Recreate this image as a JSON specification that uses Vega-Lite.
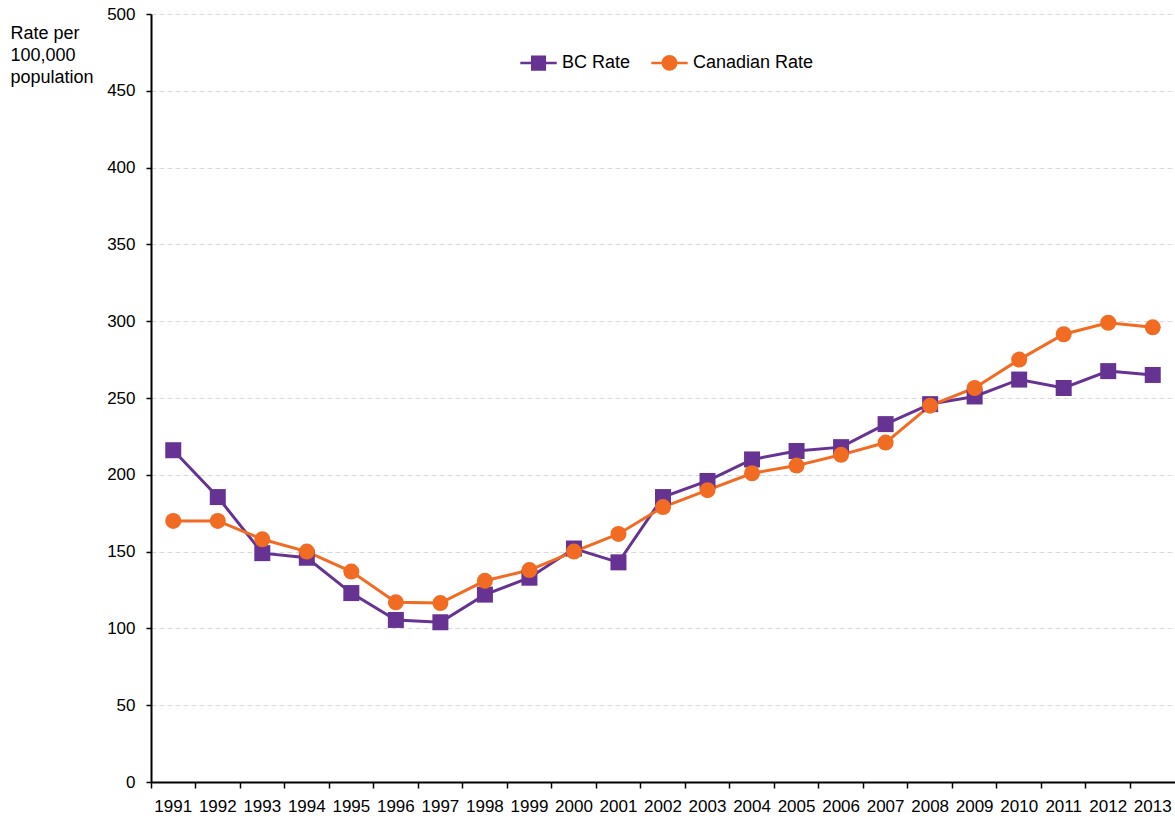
{
  "$schema": "https://vega.github.io/schema/vega-lite/v6.json",
  "width": 1024,
  "height": 768,
  "autosize": {"type": "none"},
  "padding": {"left": 151, "top": 14, "right": 0, "bottom": 41},
  "background": "white",
  "config": {
    "view": {"stroke": null},
    "font": "Liberation Sans",
    "axis": {"labelFont": "Liberation Sans", "titleFont": "Liberation Sans", "labelColor": "#000", "titleColor": "#000"},
    "legend": {"labelFont": "Liberation Sans"}
  },
  "data": {
    "values": [
      {"year": "1991", "series": "BC Rate", "rate": 216}, {"year": "1992", "series": "BC Rate", "rate": 185.5},
      {"year": "1993", "series": "BC Rate", "rate": 149}, {"year": "1994", "series": "BC Rate", "rate": 146},
      {"year": "1995", "series": "BC Rate", "rate": 123}, {"year": "1996", "series": "BC Rate", "rate": 105.5},
      {"year": "1997", "series": "BC Rate", "rate": 104}, {"year": "1998", "series": "BC Rate", "rate": 122},
      {"year": "1999", "series": "BC Rate", "rate": 133}, {"year": "2000", "series": "BC Rate", "rate": 152},
      {"year": "2001", "series": "BC Rate", "rate": 143}, {"year": "2002", "series": "BC Rate", "rate": 185.5},
      {"year": "2003", "series": "BC Rate", "rate": 196}, {"year": "2004", "series": "BC Rate", "rate": 210},
      {"year": "2005", "series": "BC Rate", "rate": 215.5}, {"year": "2006", "series": "BC Rate", "rate": 218},
      {"year": "2007", "series": "BC Rate", "rate": 233}, {"year": "2008", "series": "BC Rate", "rate": 246},
      {"year": "2009", "series": "BC Rate", "rate": 251}, {"year": "2010", "series": "BC Rate", "rate": 262},
      {"year": "2011", "series": "BC Rate", "rate": 256.5}, {"year": "2012", "series": "BC Rate", "rate": 267.5},
      {"year": "2013", "series": "BC Rate", "rate": 265},
      {"year": "1991", "series": "Canadian Rate", "rate": 170}, {"year": "1992", "series": "Canadian Rate", "rate": 170},
      {"year": "1993", "series": "Canadian Rate", "rate": 158}, {"year": "1994", "series": "Canadian Rate", "rate": 150},
      {"year": "1995", "series": "Canadian Rate", "rate": 137}, {"year": "1996", "series": "Canadian Rate", "rate": 117},
      {"year": "1997", "series": "Canadian Rate", "rate": 116.5}, {"year": "1998", "series": "Canadian Rate", "rate": 131},
      {"year": "1999", "series": "Canadian Rate", "rate": 138}, {"year": "2000", "series": "Canadian Rate", "rate": 150},
      {"year": "2001", "series": "Canadian Rate", "rate": 161.5}, {"year": "2002", "series": "Canadian Rate", "rate": 179},
      {"year": "2003", "series": "Canadian Rate", "rate": 190}, {"year": "2004", "series": "Canadian Rate", "rate": 201},
      {"year": "2005", "series": "Canadian Rate", "rate": 206}, {"year": "2006", "series": "Canadian Rate", "rate": 213},
      {"year": "2007", "series": "Canadian Rate", "rate": 221}, {"year": "2008", "series": "Canadian Rate", "rate": 245},
      {"year": "2009", "series": "Canadian Rate", "rate": 256.5}, {"year": "2010", "series": "Canadian Rate", "rate": 275},
      {"year": "2011", "series": "Canadian Rate", "rate": 291.5}, {"year": "2012", "series": "Canadian Rate", "rate": 299},
      {"year": "2013", "series": "Canadian Rate", "rate": 296}
    ]
  },
  "encoding": {
    "x": {
      "field": "year", "type": "ordinal",
      "scale": {"type": "band", "paddingInner": 0, "paddingOuter": 0},
      "axis": {
        "title": null, "labelAngle": 0, "bandPosition": 0,
        "labelFontSize": 17, "labelPadding": 10, "domainColor": "#000", "domainWidth": 2,
        "tickColor": "#000", "tickWidth": 1.5, "tickSize": 6, "grid": false
      }
    },
    "y": {
      "field": "rate", "type": "quantitative",
      "scale": {"domain": [0, 500], "nice": false},
      "axis": {
        "values": [0, 50, 100, 150, 200, 250, 300, 350, 400, 450, 500],
        "title": ["Rate per", "100,000", "population"],
        "titleAngle": 0, "titleAlign": "left", "titleBaseline": "alphabetic",
        "titleX": -141, "titleY": 24, "titleFontSize": 18, "titleFontWeight": "normal", "titleLineHeight": 22,
        "labelFontSize": 17, "labelPadding": 11, "domainColor": "#000", "domainWidth": 2,
        "tickColor": "#000", "tickWidth": 1.5, "tickSize": 5,
        "grid": true, "gridColor": "#d9d9d9", "gridDash": [5, 3], "gridWidth": 1
      }
    },
    "color": {
      "field": "series", "type": "nominal",
      "scale": {"domain": ["BC Rate", "Canadian Rate"], "range": ["#663393", "#f26b22"]},
      "legend": null
    }
  },
  "layer": [
    {"mark": {"type": "line", "strokeWidth": 3}},
    {
      "transform": [{"filter": "datum.series === 'BC Rate'"}],
      "mark": {"type": "point", "shape": "square", "filled": true, "opacity": 1, "size": 256}
    },
    {
      "transform": [{"filter": "datum.series === 'Canadian Rate'"}],
      "mark": {"type": "point", "shape": "circle", "filled": true, "opacity": 1, "size": 256}
    },
    {
      "mark": {"type": "point", "opacity": 0, "filled": true},
      "encoding": {
        "shape": {
          "field": "series", "type": "nominal",
          "scale": {
            "domain": ["BC Rate", "Canadian Rate"],
            "range": [
              "M-1.3,0H1.3M-0.45,-0.45H0.45V0.45H-0.45Z",
              "M-1.3,0H1.3M0.48,0A0.48,0.48 0 1,1 -0.48,0A0.48,0.48 0 1,1 0.48,0Z"
            ]
          },
          "legend": {
            "title": null, "orient": "none", "direction": "horizontal",
            "legendX": 372, "legendY": 33,
            "symbolSize": 784, "symbolOpacity": 1, "symbolStrokeWidth": 2.5,
            "labelFontSize": 18, "labelColor": "#000", "columnPadding": 15, "labelOffset": 8,
            "encode": {"symbols": {"update": {
              "fill": {"scale": "color", "field": "value"},
              "stroke": {"scale": "color", "field": "value"},
              "strokeWidth": {"value": 2.5},
              "opacity": {"value": 1}
            }}}
          }
        },
        "color": {
          "field": "series", "type": "nominal",
          "legend": {
            "title": null, "orient": "none", "direction": "horizontal",
            "legendX": 372, "legendY": 33,
            "symbolSize": 784, "symbolOpacity": 1, "symbolStrokeWidth": 2.5,
            "labelFontSize": 18, "labelColor": "#000", "columnPadding": 15, "labelOffset": 8,
            "encode": {"symbols": {"update": {
              "fill": {"scale": "color", "field": "value"},
              "stroke": {"scale": "color", "field": "value"},
              "strokeWidth": {"value": 2.5},
              "opacity": {"value": 1}
            }}}
          }
        }
      }
    }
  ],
  "resolve": {"legend": {"color": "independent", "shape": "independent"}}
}
